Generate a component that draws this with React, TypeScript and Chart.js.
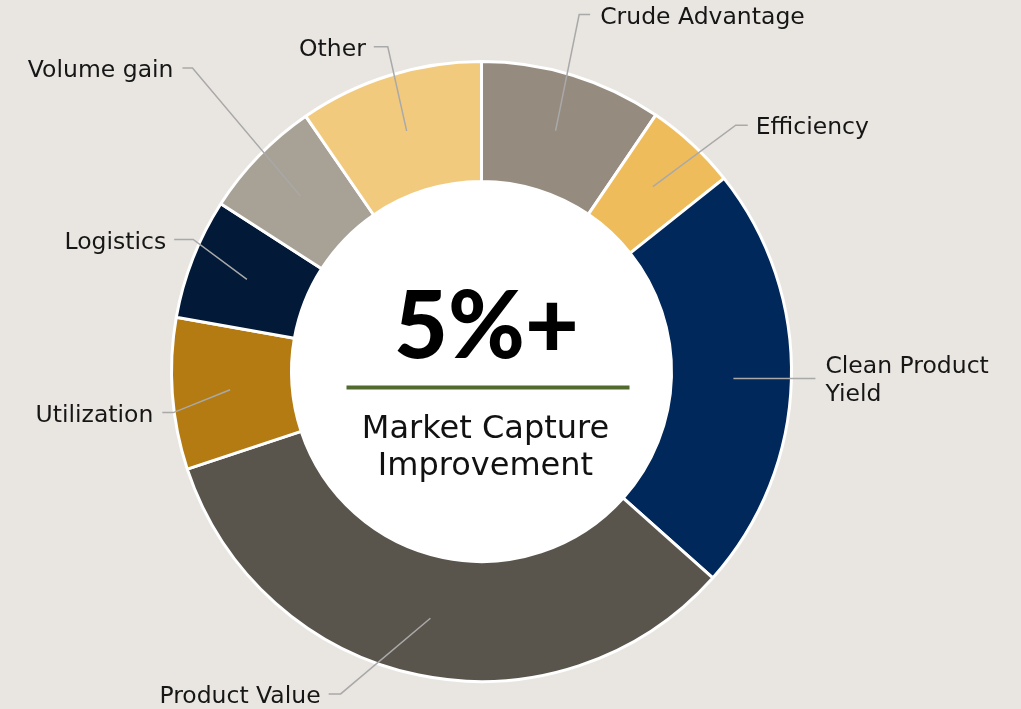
import React, { useEffect, useRef } from "react";
import { Chart, registerables } from "chart.js";

Chart.register(...registerables);

const categories = [
  "Crude Advantage",
  "Efficiency",
  "Clean Product Yield",
  "Product Value",
  "Utilization",
  "Logistics",
  "Volume gain",
  "Other",
];
const shares = [9.5, 4.8, 22.3, 33.3, 7.9, 6.3, 6.3, 9.6];
const colors = ["#958b7f", "#efbc5c", "#00285a", "#5a554c", "#b37b12", "#021a38", "#a8a196", "#f2ca7e"];
const labelLines = [
  ["Crude Advantage"],
  ["Efficiency"],
  ["Clean Product", "Yield"],
  ["Product Value"],
  ["Utilization"],
  ["Logistics"],
  ["Volume gain"],
  ["Other"],
];
const headline = "5%+";
const subtitle = ["Market Capture", "Improvement"];

// leader layout: elbow angle (deg from top, clockwise), elbow radius (fraction of outer radius), side, tick length, text gap
const leaderLayout = [
  { angle: 15.3, r: 1.194, side: 1, tick: 11, gap: 10 },
  { angle: 45.9, r: 1.142, side: 1, tick: 12, gap: 8 },
  { angle: null, r: 0, side: 1, tick: 82, gap: 10 },
  { angle: 203.6, r: 1.135, side: -1, tick: 12, gap: 8 },
  { angle: 262.4, r: 1.003, side: -1, tick: 11, gap: 9 },
  { angle: 294.6, r: 1.023, side: -1, tick: 19, gap: 8 },
  { angle: 316.4, r: 1.352, side: -1, tick: 10, gap: 9 },
  { angle: 343.9, r: 1.09, side: -1, tick: 14, gap: 8 },
];

const BG = "#e9e6e1";
const LABEL_FONT = "'DejaVu Sans', 'Open Sans', sans-serif";
const HEAD_FONT = "Lato, 'Open Sans', sans-serif";

const decorPlugin = {
  id: "decor",
  beforeDraw(chart: any) {
    const { ctx, width, height } = chart;
    ctx.save();
    ctx.fillStyle = BG;
    ctx.fillRect(0, 0, width, height);
    ctx.restore();
  },
  beforeDatasetsDraw(chart: any) {
    const meta = chart.getDatasetMeta(0);
    const arc = meta.data[0];
    if (!arc) return;
    const { x, y, innerRadius } = arc.getProps(["x", "y", "innerRadius"], true);
    const ctx = chart.ctx;
    ctx.save();
    ctx.fillStyle = "#ffffff";
    ctx.beginPath();
    ctx.arc(x, y, innerRadius + 1, 0, Math.PI * 2);
    ctx.fill();
    ctx.restore();
  },
  afterDraw(chart: any) {
    const ctx = chart.ctx;
    const meta = chart.getDatasetMeta(0);
    const first = meta.data[0];
    if (!first) return;
    const { x: cx, y: cy, innerRadius, outerRadius } = first.getProps(
      ["x", "y", "innerRadius", "outerRadius"],
      true
    );
    const midR = (innerRadius + outerRadius) / 2 + 2;

    // leaders and labels
    ctx.save();
    ctx.strokeStyle = "#a9a9a9";
    ctx.lineWidth = 1.5;
    ctx.fillStyle = "#161616";
    ctx.font = `400 23.5px ${LABEL_FONT}`;
    ctx.textBaseline = "middle";
    meta.data.forEach((el: any, i: number) => {
      const { startAngle, endAngle } = el.getProps(["startAngle", "endAngle"], true);
      const mid = (startAngle + endAngle) / 2;
      const ax = cx + Math.cos(mid) * midR;
      const ay = cy + Math.sin(mid) * midR;
      const L = leaderLayout[i];
      let ex = ax;
      let ey = ay;
      if (L.angle !== null) {
        const a = ((L.angle as number) - 90) * (Math.PI / 180);
        ex = cx + Math.cos(a) * L.r * outerRadius;
        ey = cy + Math.sin(a) * L.r * outerRadius;
      }
      const tx = ex + L.side * L.tick;
      ctx.beginPath();
      ctx.moveTo(ax, ay);
      ctx.lineTo(ex, ey);
      ctx.lineTo(tx, ey);
      ctx.stroke();
      const lines = labelLines[i];
      const lh = 28;
      ctx.textAlign = L.side > 0 ? "left" : "right";
      const textX = tx + L.side * L.gap;
      lines.forEach((t, k) => {
        const yy = lines.length > 1 ? ey - lh / 2 + k * lh + 2 : ey + 3;
        ctx.fillText(t, textX, yy);
      });
    });
    ctx.restore();

    // center text
    ctx.save();
    ctx.textAlign = "center";
    ctx.textBaseline = "alphabetic";
    ctx.fillStyle = "#000000";
    ctx.font = `900 93px ${HEAD_FONT}`;
    ctx.fillText(headline, cx + 5, cy - 14);
    ctx.fillStyle = "#506b2d";
    ctx.fillRect(cx - 135, cy + 14, 283, 4);
    ctx.fillStyle = "#111111";
    ctx.font = `400 32px ${LABEL_FONT}`;
    ctx.fillText(subtitle[0], cx + 4, cy + 66);
    ctx.fillText(subtitle[1], cx + 4, cy + 103);
    ctx.restore();
  },
};

export default function App() {
  const canvasRef = useRef<HTMLCanvasElement | null>(null);

  useEffect(() => {
    document.body.style.margin = "0";
    document.body.style.background = BG;
    const canvas = canvasRef.current;
    if (!canvas) return;
    const chart = new Chart(canvas, {
      type: "doughnut",
      data: {
        labels: categories,
        datasets: [
          {
            data: shares,
            backgroundColor: colors,
            borderColor: "#ffffff",
            borderWidth: 3,
            hoverOffset: 0,
          },
        ],
      },
      options: {
        responsive: false,
        animation: false,
        devicePixelRatio: 1,
        cutout: "61.3%",
        layout: { padding: { left: 170, right: 228, top: 60, bottom: 26 } },
        plugins: {
          legend: { display: false },
          tooltip: { enabled: false },
        },
      },
      plugins: [decorPlugin],
    });
    return () => chart.destroy();
  }, []);

  return (
    <div style={{ width: 1021, height: 709, background: BG }}>
      <canvas ref={canvasRef} width={1021} height={709} style={{ display: "block" }} />
    </div>
  );
}
